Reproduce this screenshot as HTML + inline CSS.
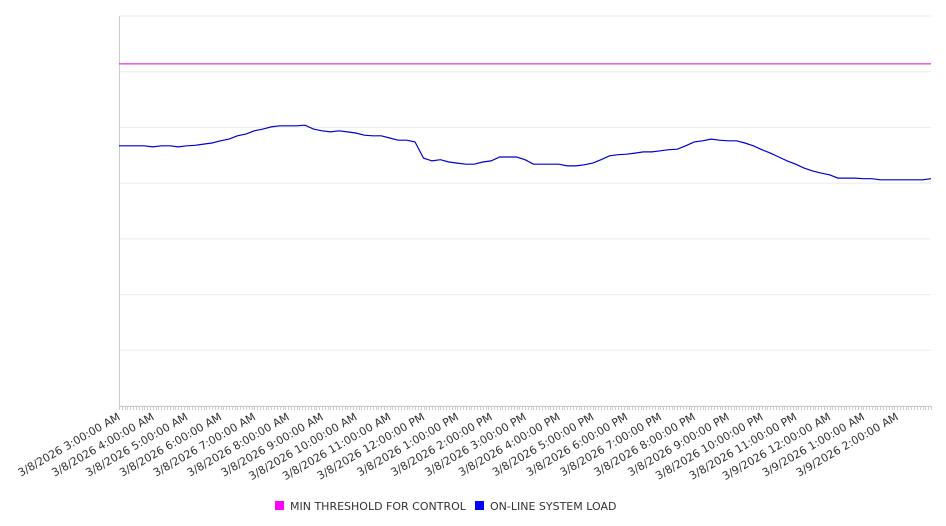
<!DOCTYPE html>
<html><head><meta charset="utf-8"><style>
body{margin:0;background:#fff;width:946px;height:526px;overflow:hidden;font-family:"DejaVu Sans","Liberation Sans",sans-serif;}
svg{display:block}
</style></head><body>
<svg id="chart" width="946" height="526"></svg>
<script>
const hourLabels=["3/8/2026 3:00:00 AM","3/8/2026 4:00:00 AM","3/8/2026 5:00:00 AM","3/8/2026 6:00:00 AM","3/8/2026 7:00:00 AM","3/8/2026 8:00:00 AM","3/8/2026 9:00:00 AM","3/8/2026 10:00:00 AM","3/8/2026 11:00:00 AM","3/8/2026 12:00:00 PM","3/8/2026 1:00:00 PM","3/8/2026 2:00:00 PM","3/8/2026 3:00:00 PM","3/8/2026 4:00:00 PM","3/8/2026 5:00:00 PM","3/8/2026 6:00:00 PM","3/8/2026 7:00:00 PM","3/8/2026 8:00:00 PM","3/8/2026 9:00:00 PM","3/8/2026 10:00:00 PM","3/8/2026 11:00:00 PM","3/9/2026 12:00:00 AM","3/9/2026 1:00:00 AM","3/9/2026 2:00:00 AM"];
const loadValues=[467,467,467,467,465,467,467,465,
467,468,470,472,476,479,485,488,
494,497,501,503,503,503,504,497,
494,492,494,492,490,486,485,485,
481,477,477,474,445,440,442,438,
436,434,434,438,440,447,447,447,
442,434,434,434,434,431,431,433,
436,442,449,451,452,454,456,456,
458,460,461,467,474,476,479,477,
476,476,472,467,460,454,447,440,
434,427,422,418,415,409,409,409,
408,408,406,406,406,406,406,406,
408];
const thresholdValue=614;
const yMax=700, yGridCount=7, totalHours=24;

const svg=document.getElementById('chart');
const NS='http://www.w3.org/2000/svg';
const L=119,R=931,T=16,B=406;
const xs=h=>L+(R-L)*h/totalHours;
const ys=v=>B-(B-T)*v/yMax;
function mk(tag,attrs){const e=document.createElementNS(NS,tag);for(const k in attrs)e.setAttribute(k,attrs[k]);svg.appendChild(e);return e;}

for(let i=0;i<=yGridCount;i++){
  const y=ys(yMax*i/yGridCount);
  const g=mk('line',{x1:L,x2:R,y1:y,y2:y,stroke:'#ebebeb','stroke-width':1});
  
  
}
const ax=mk('line',{x1:L+0.5,x2:L+0.5,y1:T,y2:B,stroke:'#ccc','stroke-width':1});


const bx=mk('line',{x1:L,x2:R,y1:B+0.5,y2:B+0.5,stroke:'#ccc','stroke-width':1});


let tp='';
for(let i=0;i<=totalHours*12;i++){const x=Math.round(xs(i/12))+0.5;tp+=`M${x} ${B} V${B+4}`;}
const tk=mk('path',{d:tp,stroke:'#ccc','stroke-width':1,fill:'none'});



hourLabels.forEach((lab,i)=>{
  const x=xs(i)+2,y=B+13;
  const t=mk('text',{x:x,y:y,'text-anchor':'end','font-size':'11',fill:'#333',transform:`rotate(-30 ${x} ${y})`});
  t.textContent=lab;
  
  
});

const th=mk('line',{x1:L,x2:R,y1:ys(thresholdValue),y2:ys(thresholdValue),stroke:'#e000e0','stroke-width':1});



const step=totalHours/(loadValues.length-1);
const pd=loadValues.map((v,i)=>(i?'L':'M')+xs(i*step).toFixed(1)+' '+ys(v).toFixed(1)).join(' ');
const ln=mk('path',{d:pd,stroke:'#0000d0','stroke-width':1.2,fill:'none'});



const legend=[["MIN THRESHOLD FOR CONTROL","#ff00ff",275,'legend-entry-threshold'],["ON-LINE SYSTEM LOAD","#0000ff",475,'legend-entry-load']];
legend.forEach(([txt,col,x,nm])=>{
  const r=mk('rect',{x:x,y:501,width:9,height:9,fill:col});
  
  
  const t=mk('text',{x:x+15,y:510,'font-size':'11',fill:'#333'});
  t.textContent=txt;
  
  
});
</script>
</body></html>
